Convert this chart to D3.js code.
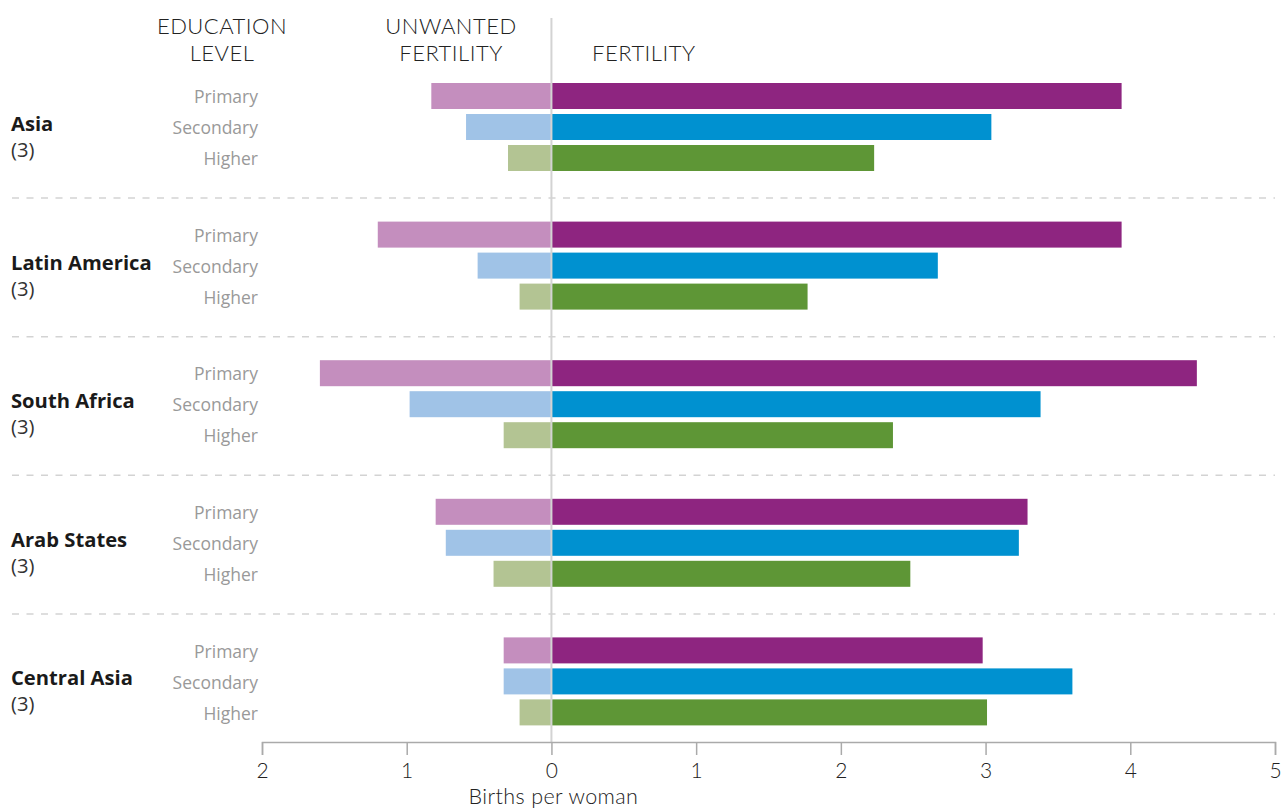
<!DOCTYPE html>
<html><head><meta charset="utf-8">
<script src="https://cdn.jsdelivr.net/npm/d3@7"></script>
<style>
html,body{margin:0;padding:0;background:#fff;}
svg{display:block;font-family:"Open Sans",sans-serif;}
</style></head><body>
<svg id="c" width="1283" height="808"></svg>
<script>
const regions = ["Asia","Latin America","South Africa","Arab States","Central Asia"];
const regionNotes = ["(3)","(3)","(3)","(3)","(3)"];
const levels = ["Primary","Secondary","Higher"];
// unwanted fertility (births per woman), per region: [Primary, Secondary, Higher]
const unwanted = [
  [0.83, 0.59, 0.30],
  [1.20, 0.51, 0.22],
  [1.60, 0.98, 0.33],
  [0.80, 0.73, 0.40],
  [0.33, 0.33, 0.22]
];
// total fertility
const fertility = [
  [3.94, 3.04, 2.23],
  [3.94, 2.67, 1.77],
  [4.46, 3.38, 2.36],
  [3.29, 3.23, 2.48],
  [2.98, 3.60, 3.01]
];
const tickValues = [-2,-1,0,1,2,3,4,5];
const unwantedColors = ["#c48ebe","#a0c3e7","#b3c493"];
const fertilityColors = ["#8e2580","#0091d0","#5e9636"];

const svg = d3.select("#c");
const x = d3.scaleLinear().domain([-2,5]).range([262,1275]);
const groupY = d3.scaleLinear().domain([0,1]).range([83,221.6]);
const barPitch = 31, barH = 26;

// dashed separators
for (let i=1;i<regions.length;i++){
  const yy = groupY(i) - 23.5;
  svg.append("line").attr("x1",12).attr("x2",1275).attr("y1",yy).attr("y2",yy)
    .attr("stroke","#d3d3d3").attr("stroke-width",1.5).attr("stroke-dasharray","7,7.5");
}

const rows = [];
regions.forEach((r,i)=>levels.forEach((l,j)=>rows.push({i,j,r,l,u:unwanted[i][j],f:fertility[i][j]})));

const g = svg.append("g");
g.selectAll("rect.u").data(rows).join("rect").attr("class","u")
  .attr("x",d=>x(-d.u)).attr("width",d=>x(0)-x(-d.u))
  .attr("y",d=>groupY(d.i)+d.j*barPitch).attr("height",barH)
  .attr("fill",d=>unwantedColors[d.j]);
g.selectAll("rect.f").data(rows).join("rect").attr("class","f")
  .attr("x",x(0)).attr("width",d=>x(d.f)-x(0))
  .attr("y",d=>groupY(d.i)+d.j*barPitch).attr("height",barH)
  .attr("fill",d=>fertilityColors[d.j]);

// level labels
g.selectAll("text.lv").data(rows).join("text").attr("class","lv")
  .attr("x",258).attr("y",d=>groupY(d.i)+d.j*barPitch+barH/2+1)
  .attr("dy","0.35em").attr("text-anchor","end")
  .attr("font-size",17.5).attr("fill","#999").attr("font-weight",400)
  .text(d=>d.l);

// region labels
regions.forEach((r,i)=>{
  const cy = groupY(i) + barPitch + barH/2;
  svg.append("text").attr("x",11).attr("y",cy+4).attr("font-size",20.2)
    .attr("font-weight",700).attr("fill","#1a1a1a").text(r);
  svg.append("text").attr("x",11).attr("y",cy+30).attr("font-size",20.2)
    .attr("font-weight",400).attr("fill","#333").text(regionNotes[i]);
});

// zero line
svg.append("line").attr("x1",x(0)).attr("x2",x(0)).attr("y1",18).attr("y2",742)
  .attr("stroke","#d3d3d3").attr("stroke-width",2);

// headers
const hdr = (t,xx,yy,anchor)=>svg.append("text").attr("x",xx).attr("y",yy)
  .attr("text-anchor",anchor).attr("font-size",22).attr("font-weight",300)
  .attr("font-family","Lato, sans-serif")
  .attr("letter-spacing",0.5).attr("fill","#222").text(t);
hdr("EDUCATION",222,34,"middle"); hdr("LEVEL",222,61,"middle");
hdr("UNWANTED",451,34,"middle"); hdr("FERTILITY",451,61,"middle");
hdr("FERTILITY",592,61,"start");

// axis
const axis = d3.axisBottom(x).tickValues(tickValues).tickSize(13).tickPadding(8)
  .tickFormat(d=>Math.abs(d));
const ax = svg.append("g").attr("transform","translate(0,742)").call(axis);
ax.select(".domain").attr("stroke","#aaa").attr("stroke-width",1.5);
ax.selectAll(".tick line").attr("stroke","#aaa").attr("stroke-width",1.5);
ax.selectAll(".tick text").attr("font-size",21).attr("fill","#222")
  .attr("font-family","Lato, sans-serif").attr("font-weight",300);
svg.append("text").attr("x",x(0)+2).attr("y",804).attr("text-anchor","middle")
  .attr("font-family","Lato, sans-serif").attr("letter-spacing",0.4)
  .attr("font-size",21.5).attr("font-weight",300).attr("fill","#222").text("Births per woman");
</script>
</body></html>
